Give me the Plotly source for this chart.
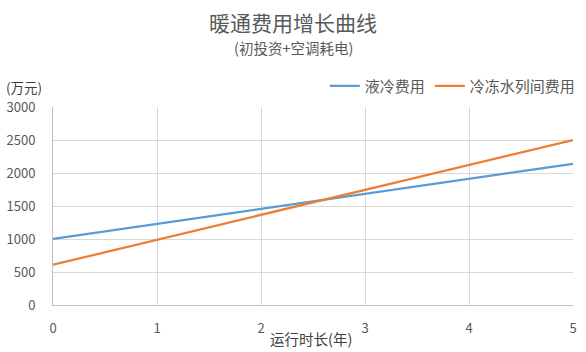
import plotly.graph_objects as go

years = [0, 1, 2, 3, 4, 5]
liquid_cost = [1000, 1228, 1456, 1684, 1912, 2140]
chilled_cost = [610, 988, 1366, 1744, 2122, 2500]
series_names = ["液冷费用", "冷冻水列间费用"]
title_text = "暖通费用增长曲线"
subtitle_text = "(初投资+空调耗电)"
x_title = "运行时长(年)"
y_title = "(万元)"

FONT = "Noto Sans CJK SC"
GREY = "#595959"

fig = go.Figure()
fig.add_trace(go.Scatter(x=years, y=liquid_cost, mode="lines", name=series_names[0],
                         line=dict(color="#5b9bd5", width=2.25)))
fig.add_trace(go.Scatter(x=years, y=chilled_cost, mode="lines", name=series_names[1],
                         line=dict(color="#ed7d31", width=2.25)))

L, R, T, B = 53, 13, 107, 47
fig.update_layout(
    width=586, height=352,
    margin=dict(l=L, r=R, t=T, b=B, autoexpand=False),
    paper_bgcolor="white", plot_bgcolor="white",
    font=dict(family=FONT, color=GREY, size=13),
    showlegend=True,
    legend=dict(orientation="h", x=1.015, xanchor="right", y=1.106, yanchor="middle",
                font=dict(size=15, color=GREY, family=FONT), itemwidth=30,
                bgcolor="rgba(0,0,0,0)"),
    xaxis=dict(range=[0, 5], tickvals=years, showgrid=True, gridcolor="#d9d9d9",
               showline=True, linecolor="#bfbfbf", linewidth=1, zeroline=False,
               automargin=False,
               ticks="", tickfont=dict(size=13, color=GREY), ticklabelstandoff=11),
    yaxis=dict(range=[0, 3000], dtick=500, showgrid=True, gridcolor="#d9d9d9",
               showline=True, linecolor="#bfbfbf", linewidth=1, zeroline=False,
               automargin=False,
               ticks="", tickfont=dict(size=13, color=GREY), ticklabelstandoff=14),
    annotations=[
        dict(text=title_text, x=293, y=22, showarrow=False,
             font=dict(size=21, color=GREY, family=FONT)),
        dict(text=subtitle_text, x=293, y=47, showarrow=False,
             font=dict(size=14.5, color=GREY, family=FONT)),
        dict(text=y_title, x=4, y=87, showarrow=False,
             xanchor="left", font=dict(size=13.5, color="#404040", family=FONT)),
        dict(text=x_title, x=311, y=338, showarrow=False,
             font=dict(size=14.5, color="#404040", family=FONT)),
    ],
)

# convert pixel positions of annotations to paper coords
pw, ph = 586 - L - R, 352 - T - B
for a in fig.layout.annotations:
    px, py = a.x, a.y
    a.xref = "paper"
    a.yref = "paper"
    a.x = (px - L) / pw
    a.y = (352 - B - py) / ph
    a.yanchor = "middle"

fig.write_html("out.html")
